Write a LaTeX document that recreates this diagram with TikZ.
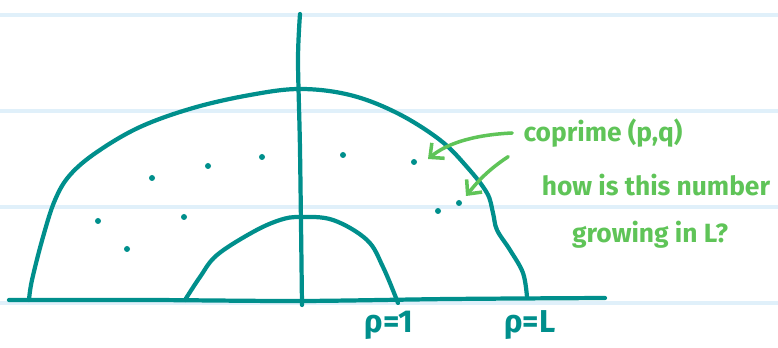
\documentclass[tikz,border=0pt]{standalone}
\usepackage{fontspec}
\setmainfont{Fira Sans}
\usetikzlibrary{arrows.meta}
\definecolor{teal}{RGB}{0,143,140}
\definecolor{pengreen}{RGB}{95,196,88}
\definecolor{paper}{RGB}{224,240,250}
\tikzset{
  pen/.style={draw=teal, line width=3.6pt, line cap=round, line join=round},
  gpen/.style={draw=pengreen, line width=3pt, line cap=round, line join=round,
    -{Straight Barb[length=3.2mm,width=6mm,line width=3pt]}},
  note/.style={text=pengreen, font=\bfseries\fontsize{22.5}{26}\selectfont, inner sep=1pt},
  rholab/.style={text=teal, font=\bfseries\fontsize{27}{30}\selectfont, inner sep=1pt}
}
\begin{document}
\begin{tikzpicture}[x=0.03cm, y=-0.03cm]
  \useasboundingbox (0,0) rectangle (778,348);
  % ruled paper
  \foreach \y in {15,111,207,303}
    \draw[paper, line width=4pt] (0,\y) -- (778,\y);
  % axes
  \draw[pen] plot[smooth] coordinates {(9,300) (150,300) (300,301) (450,299) (605,298)};
  \draw[pen] plot[smooth] coordinates {(300,14) (298,60) (300,150) (302,305)};
  % outer region, rho = L
  \draw[pen] plot[smooth, tension=0.6] coordinates {(29,300) (32,280) (43,237) (55,200)
    (70,175) (97,152) (140,127) (193,108) (250,95) (300,89) (350,95) (397,113)
    (440,140) (467,167) (487,193) (493,213) (497,230) (510,250) (523,273) (527,297)};
  % inner region, rho = 1
  \draw[pen] plot[smooth, tension=0.6] coordinates {(185,300) (200,277) (217,255)
    (253,232) (280,220) (300,217) (333,220) (367,240) (383,267) (398,303)};
  % lattice points
  \foreach \x/\y in {152/178, 208/166, 262/157, 343/155, 414/162,
                     98/221, 184/217, 127/249, 438/211, 459/203}
    \fill[teal] (\x,\y) circle (3);
  % labels
  \node[rholab] (r1) at (389,325) {ρ=1};
  \node[rholab] (rL) at (530,325) {ρ=L};
  \node[note] (cop) at (603,133) {coprime (p,q)};
  \node[note] (how) at (656,185) {how is this number};
  \node[note] (grow) at (650,235) {growing in L?};
  \coordinate (t1) at (428,159);
  \coordinate (t2) at (466,196);
  \draw[gpen] (cop.west) ++(-10,0) .. controls (470,135) and (445,145) .. (t1);
  \draw[gpen] (cop.south west) ++(-14,8) .. controls (485,172) and (475,185) .. (t2);
\end{tikzpicture}
\end{document}
